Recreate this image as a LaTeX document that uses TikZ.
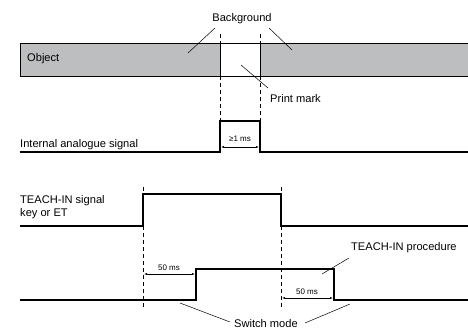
\documentclass[tikz,border=0pt]{standalone}
\usepackage{fontspec}
\setmainfont{Liberation Sans}
\usetikzlibrary{arrows.meta}
\definecolor{bargray}{RGB}{189,190,192}
\begin{document}
\begin{tikzpicture}[x=1pt,y=-1pt,
  sig/.style={line width=1.1pt},
  dsh/.style={line width=0.7pt,dash pattern=on 4pt off 3pt},
  lead/.style={line width=0.5pt},
  lbl/.style={font=\fontsize{11.1}{13}\selectfont,inner sep=0pt},
  small/.style={font=\fontsize{8}{9}\selectfont,inner sep=0pt},
  dim/.style={line width=0.5pt,{Latex[length=3pt,width=2pt]}-{Latex[length=3pt,width=2pt]}}]
\useasboundingbox (0,0) rectangle (468,329);
% object bar
\fill[bargray] (20,43) rectangle (470,76);
\draw[line width=0.8pt] (470,43) -- (20,43) -- (20,76) -- (470,76);
\draw[line width=0.8pt,fill=white] (220,43) rectangle (260,76);
\node[lbl,anchor=west] (obj) at (27,59) {Object};
% dashed guides
\draw[dsh] (220,34) -- (220,121);
\draw[dsh] (260,34) -- (260,121);
% labels
\node[lbl] (bg) at (242,19) {Background};
\coordinate (bgl1) at (215,28); \coordinate (bgl2) at (188,53);
\coordinate (bgr1) at (269,28); \coordinate (bgr2) at (292,50);
\draw[lead] (bgl1) -- (bgl2);
\draw[lead] (bgr1) -- (bgr2);
\node[lbl,anchor=west] (pm) at (270,99) {Print mark};
\coordinate (pm1) at (241,65); \coordinate (pm2) at (268,88);
\draw[lead] (pm1) -- (pm2);
% internal analogue signal
\node[lbl,anchor=west] (ias) at (20,145) {Internal analogue signal};
\draw[sig] (20,152) -- (220,152) -- (220,121) -- (260,121) -- (260,152) -- (470,152);
\coordinate (a1) at (221,147); \coordinate (a2) at (259,147);
\draw[dim] (a1) -- (a2);
\node[small] (ge) at (240,139) {≥1 ms};
% TEACH-IN signal
\node[lbl,anchor=west] (ts1) at (20,201) {TEACH-IN signal};
\node[lbl,anchor=west] (ts2) at (20,214) {key or ET};
\draw[sig] (20,226) -- (143,226) -- (143,194) -- (281,194) -- (281,226) -- (470,226);
\draw[dsh] (143,187) -- (143,194);
\draw[dsh] (281,187) -- (281,194);
\draw[dsh] (143,226) -- (143,309);
\draw[dsh] (281,226) -- (281,309);
% TEACH-IN procedure
\draw[sig] (20,300) -- (196,300) -- (196,269) -- (334,269) -- (334,300) -- (470,300);
\coordinate (b1) at (144,274); \coordinate (b2) at (195,274);
\draw[dim] (b1) -- (b2);
\node[small] (t50a) at (169,268) {50 ms};
\coordinate (c1) at (282,298); \coordinate (c2) at (333,298);
\draw[dim] (c1) -- (c2);
\node[small] (t50b) at (307,292) {50 ms};
\node[lbl,anchor=west] (tp) at (351,248) {TEACH-IN procedure};
\coordinate (tp1) at (349,258); \coordinate (tp2) at (322,274);
\draw[lead] (tp1) -- (tp2);
\node[lbl] (sm) at (266,324) {Switch mode};
\coordinate (s1) at (180,303); \coordinate (s2) at (230,322);
\coordinate (s3) at (350,304); \coordinate (s4) at (305,323);
\draw[lead] (s1) -- (s2);
\draw[lead] (s3) -- (s4);
\end{tikzpicture}
\end{document}
